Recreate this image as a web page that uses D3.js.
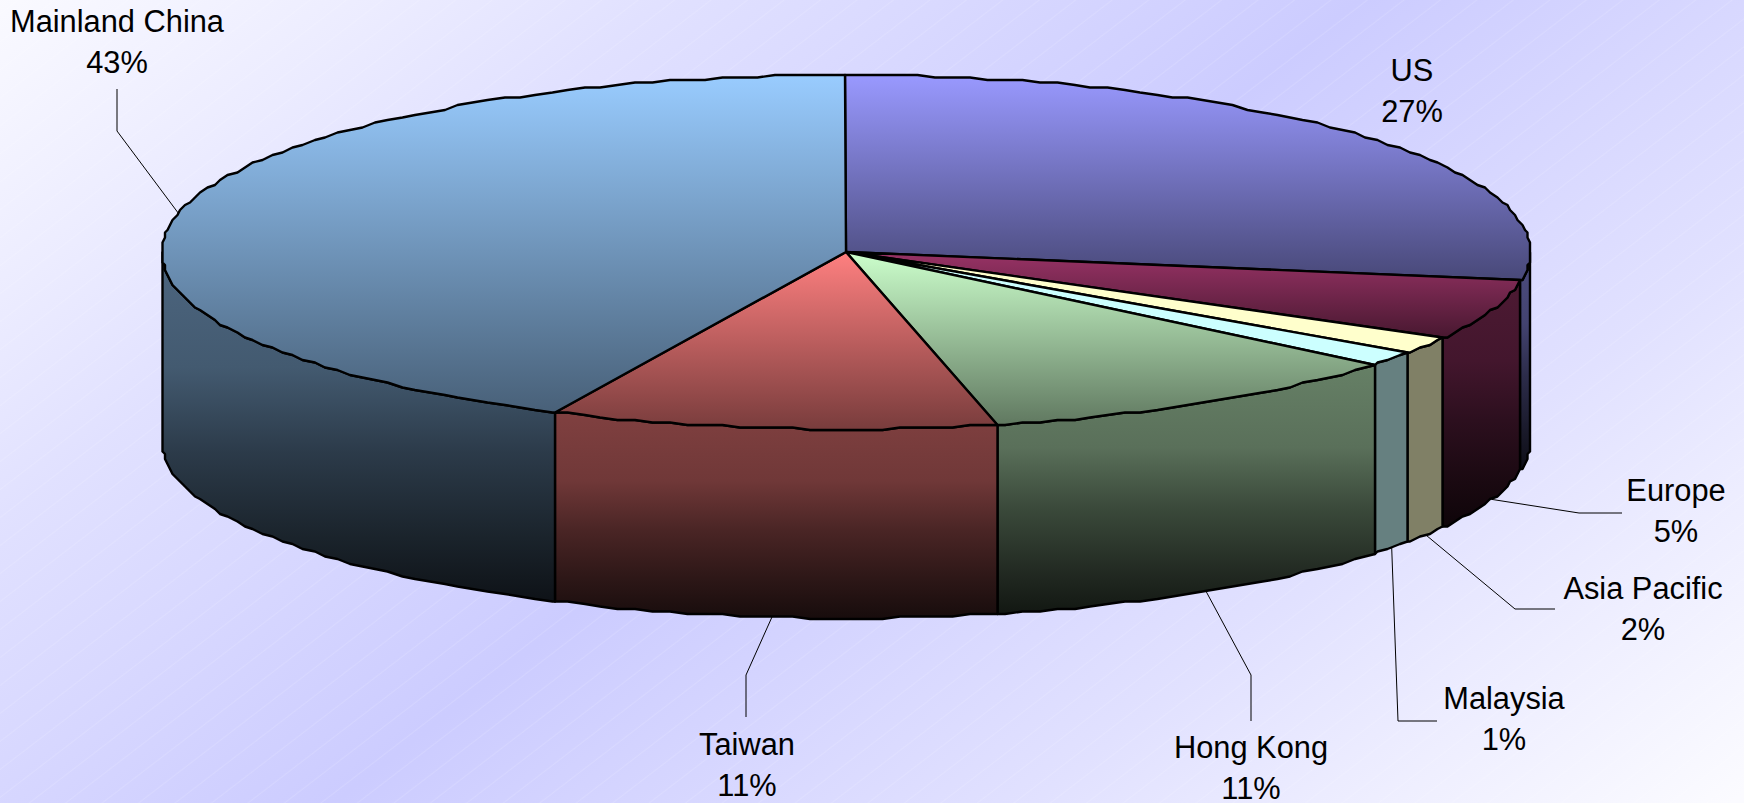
<!DOCTYPE html>
<html>
<head>
<meta charset="utf-8">
<script src="https://cdn.jsdelivr.net/npm/d3@7"></script>
<style>
    html, body { margin: 0; padding: 0; overflow: hidden; }
    svg { display: block; }
    text { font-family: "Liberation Sans", Arial, sans-serif; font-size: 30.8px; fill: #000; }
</style>
</head>
<body>
<svg></svg>
<script>
const regions = ["US", "Europe", "Asia Pacific", "Malaysia", "Hong Kong", "Taiwan", "Mainland China"];
const shares = [27.6, 5.5, 1.6, 1.2, 10.55, 10.55, 43.0];
const percentLabels = ["27%", "5%", "2%", "1%", "11%", "11%", "43%"];
const sliceColors = ["#9999ff", "#993366", "#ffffcc", "#ccffff", "#ccffcc", "#ff8080", "#99ccff"];
const flatSlices = ["Asia Pacific", "Malaysia"];

// Layout
const width = 1744;
const height = 803;
const cx = 846, cy = 252, rx = 684, ry = 177, depth = 189;
const gridStep = 2.5;      // edges snap to a coarse grid, as in the original
const angleStep = Math.PI / 120;
const lineHeight = 41;

// label centre x, first baseline, elbow of the leader, end of the leader
const labelLayout = {
    "US": { x: 1412, y: 81 },
    "Europe": { x: 1676, y: 501, elbow: [1579, 513], end: [1622, 513] },
    "Asia Pacific": { x: 1643, y: 599, elbow: [1515, 609], end: [1555, 609] },
    "Malaysia": { x: 1504, y: 709, elbow: [1398, 721], end: [1437, 721] },
    "Hong Kong": { x: 1251, y: 758, elbow: [1251, 675], end: [1251, 721] },
    "Taiwan": { x: 747, y: 755, elbow: [746, 675], end: [746, 717] },
    "Mainland China": { x: 117, y: 32, elbow: [117, 131], end: [117, 89] }
};

const table = regions.map((name, i) => ({ name, share: shares[i], color: sliceColors[i], percent: percentLabels[i] }));

const arcs = d3.pie().sort(null).value(d => d.share)(table);

const xScale = d3.scaleLinear().domain([-1, 1]).range([cx - rx, cx + rx]);
const yScale = d3.scaleLinear().domain([-1, 1]).range([cy - ry, cy + ry]);

const snap = v => Math.round(v / gridStep) * gridStep;
const rim = (a, drop) => [snap(xScale(Math.sin(a))), snap(yScale(-Math.cos(a))) + drop];

// Same angle grid for every call, so wall and top edges fall on each other
function rimPoints(a0, a1, drop) {
    const first = Math.ceil(a0 / angleStep + 1e-6);
    const last = Math.floor(a1 / angleStep - 1e-6);
    const angles = [a0].concat(d3.range(first, last + 1).map(k => k * angleStep), [a1]);
    return angles.map(a => rim(a, drop));
}

const line = d3.line();
const svg = d3.select("svg").attr("width", width).attr("height", height);
const defs = svg.append("defs");

// Background runs pale, lavender, pale across the diagonal
const bgMix = d3.interpolateRgb("#ccccff", "#ffffff");
const bgStops = [[0, 0.92], [0.15, 0.62], [0.25, 0.42], [0.35, 0.25], [0.5, 0], [0.65, 0.25], [0.75, 0.42], [0.85, 0.62], [1, 0.92]];
const bg = defs.append("linearGradient")
    .attr("id", "bg")
    .attr("gradientUnits", "userSpaceOnUse")
    .attr("x1", 840 - 0.616 * 860).attr("y1", 407 - 0.788 * 860)
    .attr("x2", 840 + 0.616 * 860).attr("y2", 407 + 0.788 * 860);
bg.selectAll("stop")
    .data(bgStops)
    .enter()
    .append("stop")
    .attr("offset", d => d[0])
    .attr("stop-color", d => bgMix(d[1]));

// Faint diagonal banding lines of the original gradient
const hatch = defs.append("pattern")
    .attr("id", "hatch")
    .attr("patternUnits", "userSpaceOnUse")
    .attr("width", 200).attr("height", 22.2)
    .attr("patternTransform", "rotate(-37.5)");
hatch.append("line")
    .attr("x1", 0).attr("x2", 200).attr("y1", 11).attr("y2", 11)
    .attr("stroke", "#fff").attr("stroke-opacity", 0.18).attr("stroke-width", 0.8);

svg.append("rect").attr("width", width).attr("height", height).attr("fill", "url(#bg)");
svg.append("rect").attr("width", width).attr("height", height).attr("fill", "url(#hatch)");

function shade(color, k) {
    const c = d3.rgb(color);
    return d3.rgb(c.r * k, c.g * k, c.b * k).formatHex();
}

function addGradient(id, color, stops) {
    const g = defs.append("linearGradient").attr("id", id)
        .attr("x1", 0).attr("y1", 0).attr("x2", 0).attr("y2", 1);
    stops.forEach(s => g.append("stop").attr("offset", s[0]).attr("stop-color", shade(color, s[1])));
}

arcs.forEach((d, i) => {
    addGradient("top" + i, d.data.color, [[0, 1], [1, 0.47]]);
    addGradient("wall" + i, d.data.color, [[0, 0.5], [0.33, 0.44], [0.57, 0.29], [0.82, 0.17], [1, 0.09]]);
});

const isFlat = d => flatSlices.includes(d.data.name);

// Walls: only the front half of the rim can be seen
const front = arcs
    .map((d, i) => ({ d, i, a0: Math.max(d.startAngle, Math.PI / 2), a1: Math.min(d.endAngle, 3 * Math.PI / 2) }))
    .filter(w => w.a1 > w.a0);

svg.append("g").selectAll("path")
    .data(front)
    .enter()
    .append("path")
    .attr("d", w => line(rimPoints(w.a0, w.a1, 0).concat(rimPoints(w.a0, w.a1, depth).reverse())) + "Z")
    .attr("fill", w => isFlat(w.d) ? shade(w.d.data.color, 0.5) : `url(#wall${w.i})`)
    .attr("stroke", "#000")
    .attr("stroke-width", 2.4)
    .attr("stroke-linejoin", "round");

// Top faces
svg.append("g").selectAll("path")
    .data(arcs)
    .enter()
    .append("path")
    .attr("d", d => line([[cx, cy]].concat(rimPoints(d.startAngle, d.endAngle, 0))) + "Z")
    .attr("fill", (d, i) => isFlat(d) ? d.data.color : `url(#top${i})`)
    .attr("stroke", "#000")
    .attr("stroke-width", 2.4)
    .attr("stroke-linejoin", "round");

// Leader lines start from the middle of each slice's outer edge
svg.append("g").selectAll("path")
    .data(arcs.filter(d => labelLayout[d.data.name].elbow))
    .enter()
    .append("path")
    .attr("d", d => {
        const mid = (d.startAngle + d.endAngle) / 2;
        const drop = Math.cos(mid) < 0 ? depth : 0;
        const p = labelLayout[d.data.name];
        return line([[xScale(Math.sin(mid)), yScale(-Math.cos(mid)) + drop], p.elbow, p.end]);
    })
    .attr("fill", "none")
    .attr("stroke", "#000")
    .attr("stroke-width", 1);

// Labels
const labels = svg.append("g").selectAll("text")
    .data(arcs)
    .enter()
    .append("text")
    .attr("text-anchor", "middle");

labels.append("tspan")
    .attr("x", d => labelLayout[d.data.name].x)
    .attr("y", d => labelLayout[d.data.name].y)
    .text(d => d.data.name);

labels.append("tspan")
    .attr("x", d => labelLayout[d.data.name].x)
    .attr("y", d => labelLayout[d.data.name].y + lineHeight)
    .text(d => d.data.percent);
</script>
</body>
</html>
